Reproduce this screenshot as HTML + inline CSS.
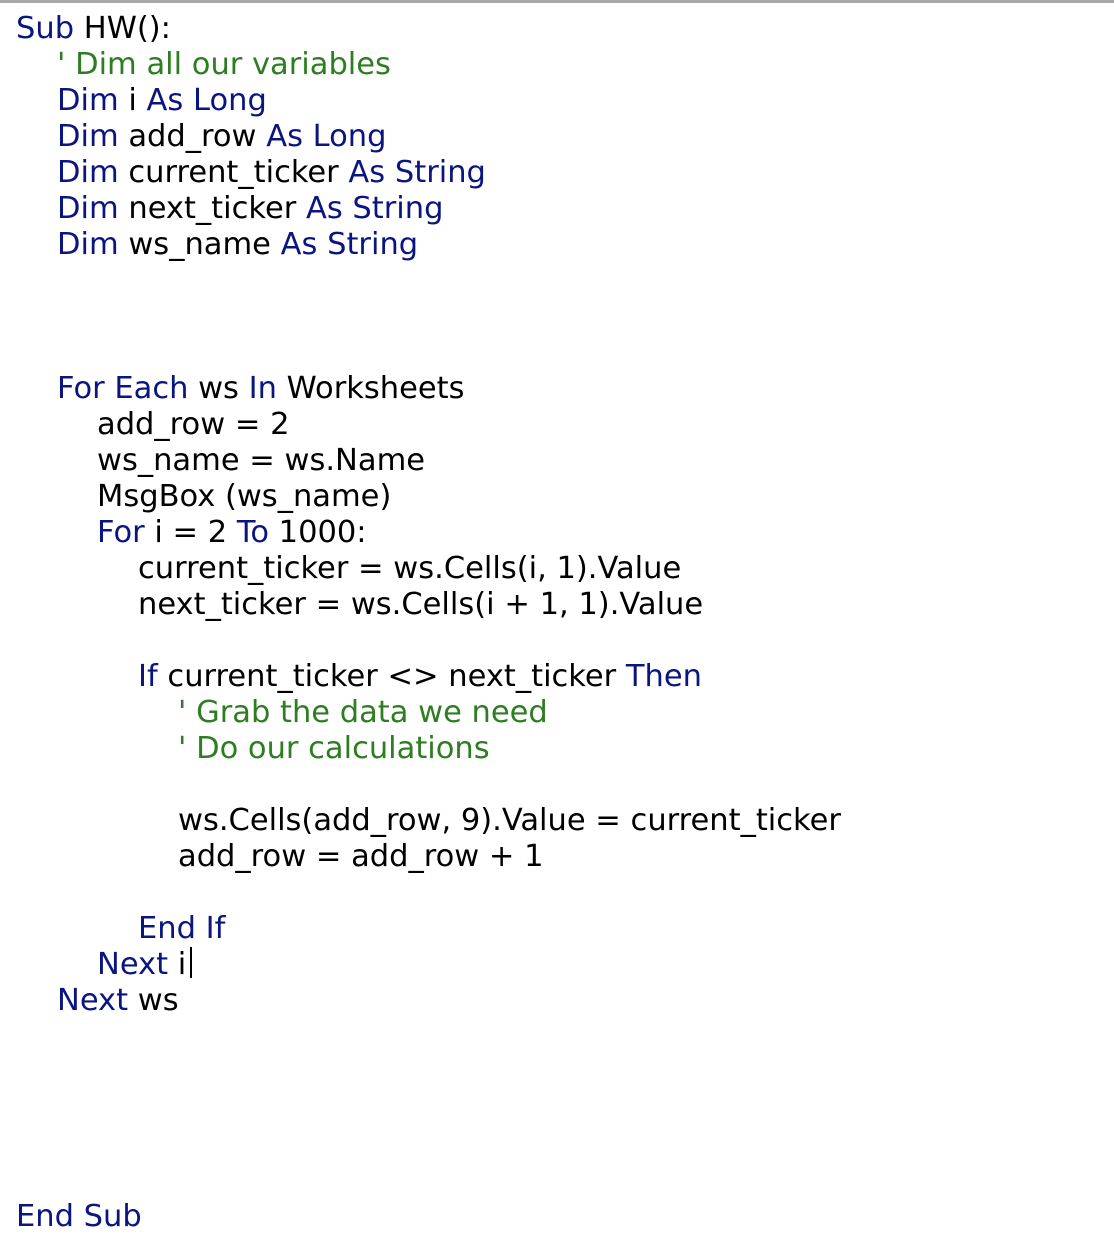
<!DOCTYPE html>
<html><head><meta charset="utf-8"><style>
html,body{margin:0;padding:0;background:#fff;width:1114px;height:1256px;overflow:hidden;position:relative}
.top{position:absolute;left:0;top:0;width:1114px;height:3px;background:#a8a8a8}
.code{position:absolute;left:0;top:11px;font-family:"DejaVu Sans","Liberation Sans",sans-serif;font-size:30.5px;line-height:36px;color:#000}
.l{height:36px;white-space:nowrap}
.k{color:#0a1580}
.c{color:#2f7d23}
.i0{padding-left:16px}.i1{padding-left:57px}.i2{padding-left:97px}.i3{padding-left:138px}.i4{padding-left:178px}
.cur{position:absolute;left:190px;top:947px;width:2px;height:31px;background:#000}
</style></head><body>
<div class="top"></div>
<div class="code"><div class="l i0"><span class="k">Sub</span> HW():</div><div class="l i1 c">' Dim all our variables</div><div class="l i1"><span class="k">Dim</span> i <span class="k">As Long</span></div><div class="l i1"><span class="k">Dim</span> add_row <span class="k">As Long</span></div><div class="l i1"><span class="k">Dim</span> current_ticker <span class="k">As String</span></div><div class="l i1"><span class="k">Dim</span> next_ticker <span class="k">As String</span></div><div class="l i1"><span class="k">Dim</span> ws_name <span class="k">As String</span></div><div class="l"></div><div class="l"></div><div class="l"></div><div class="l i1"><span class="k">For Each</span> ws <span class="k">In</span> Worksheets</div><div class="l i2">add_row = 2</div><div class="l i2">ws_name = ws.Name</div><div class="l i2">MsgBox (ws_name)</div><div class="l i2"><span class="k">For</span> i = 2 <span class="k">To</span> 1000:</div><div class="l i3">current_ticker = ws.Cells(i, 1).Value</div><div class="l i3">next_ticker = ws.Cells(i + 1, 1).Value</div><div class="l"></div><div class="l i3"><span class="k">If</span> current_ticker &lt;&gt; next_ticker <span class="k">Then</span></div><div class="l i4 c">' Grab the data we need</div><div class="l i4 c">' Do our calculations</div><div class="l"></div><div class="l i4">ws.Cells(add_row, 9).Value = current_ticker</div><div class="l i4">add_row = add_row + 1</div><div class="l"></div><div class="l i3 k">End If</div><div class="l i2"><span class="k">Next</span> i</div><div class="l i1"><span class="k">Next</span> ws</div><div class="l"></div><div class="l"></div><div class="l"></div><div class="l"></div><div class="l"></div><div class="l i0 k">End Sub</div></div>
<div class="cur"></div>
</body></html>
